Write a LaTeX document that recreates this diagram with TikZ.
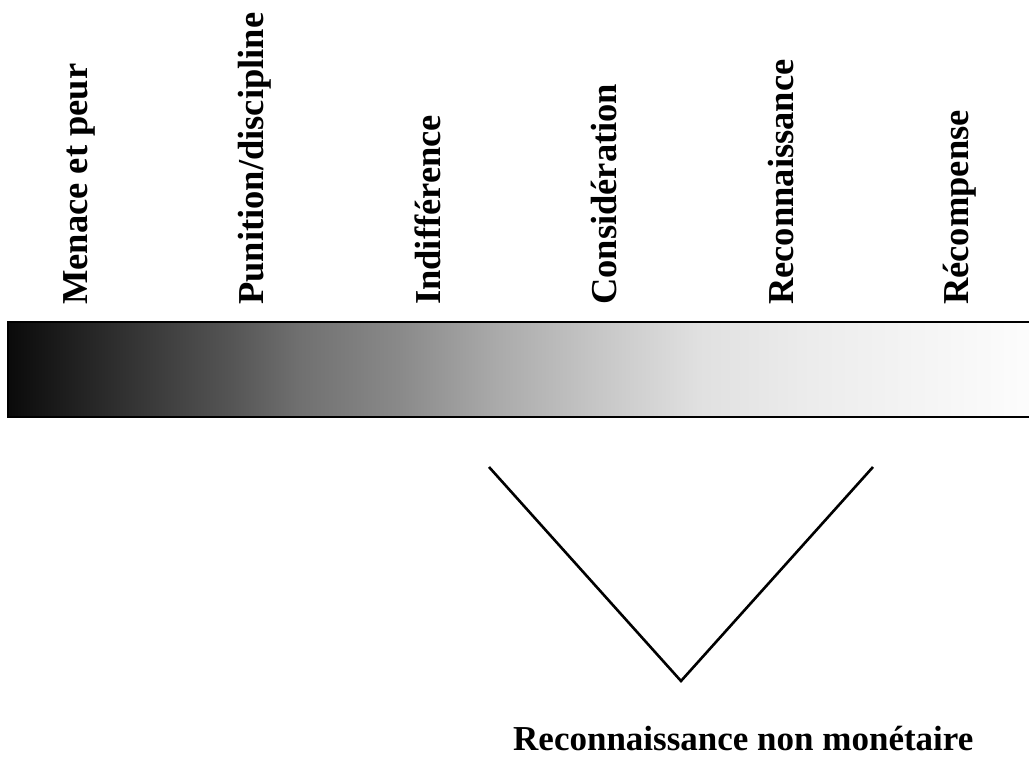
\documentclass[tikz,border=0pt]{standalone}
\usepackage{fontspec}
\setmainfont{Liberation Serif}
\definecolor{g0}{gray}{0.04}
\definecolor{g1}{gray}{0.33}
\definecolor{g2}{gray}{0.44}
\definecolor{g3}{gray}{0.54}
\definecolor{g4}{gray}{0.67}
\definecolor{g5}{gray}{0.78}
\definecolor{g6}{gray}{0.88}
\definecolor{g7}{gray}{0.925}
\definecolor{g8}{gray}{0.99}
\pgfdeclarehorizontalshading{barshade}{100bp}{color(0bp)=(g0); color(25bp)=(g0); color(35.87bp)=(g1); color(39.30bp)=(g2); color(44.20bp)=(g3); color(49.09bp)=(g4); color(53.99bp)=(g5); color(58.89bp)=(g6); color(64.27bp)=(g7); color(75bp)=(g8); color(100bp)=(g8)}
\tikzset{
  lab/.style={rotate=90, anchor=base west, inner sep=0pt, font=\fontsize{36.5}{40}\selectfont\bfseries},
  bottomlab/.style={anchor=base west, inner sep=0pt, font=\fontsize{35}{40}\selectfont\bfseries},
  border/.style={line width=2pt, black},
  vline/.style={line width=2.6pt, black, line join=miter}
}
\begin{document}
\begin{tikzpicture}[x=1pt,y=-1pt]
\useasboundingbox (0,0) rectangle (1029,757);
% gradient bar
\coordinate (tl) at (8,322);
\coordinate (br) at (1029,417);
\coordinate (tr) at (1029,322);
\coordinate (bl) at (8,417);
\fill[shading=barshade] (tl) rectangle (br);
\draw[border] (tr) -- (tl) -- (bl) -- (br);
% labels
\node[lab] (l1) at (87,305) {Menace et peur};
\node[lab] (l2) at (263,305) {Punition/discipline};
\node[lab] (l3) at (440,305) {Indifférence};
\node[lab] (l4) at (616,305) {Considération};
\node[lab] (l5) at (793,305) {Reconnaissance};
\node[lab] (l6) at (968,305) {Récompense};
% V shape
\coordinate (va) at (489,467);
\coordinate (vb) at (681,681);
\coordinate (vc) at (873,467);
\draw[vline] (va) -- (vb) -- (vc);
\node[bottomlab] (rnm) at (513,750) {Reconnaissance non monétaire};
\end{tikzpicture}
\end{document}
